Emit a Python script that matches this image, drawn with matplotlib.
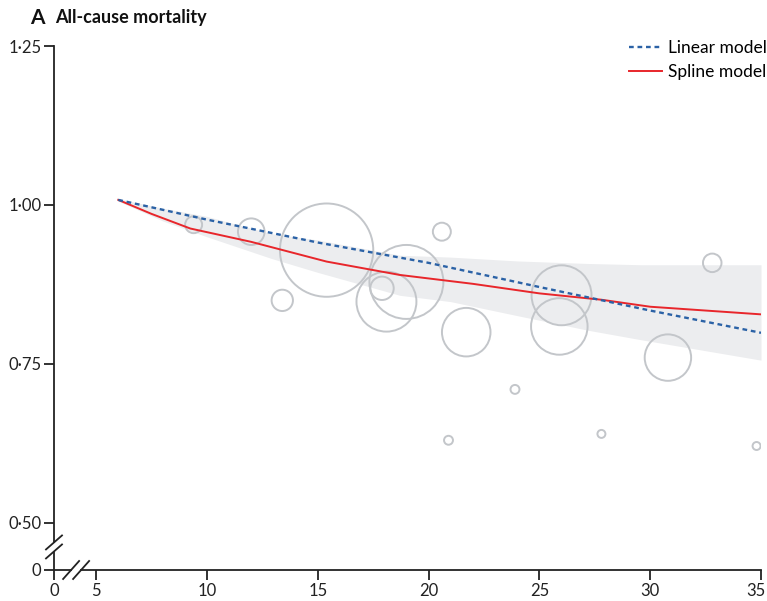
import matplotlib.pyplot as plt
import matplotlib.transforms as mtransforms
import numpy as np

plt.rcParams['font.family'] = ['Lato', 'DejaVu Sans']

# individual studies: exposure, relative risk, weight (bubble area)
study_x = [9.4, 12.0, 15.4, 13.4, 17.9, 18.1, 19.0, 20.6, 21.7, 26.0, 25.9, 32.8, 30.8, 23.9, 20.9, 27.8, 34.8]
study_rr = [0.969, 0.958, 0.929, 0.850, 0.869, 0.848, 0.879, 0.958, 0.800, 0.858, 0.809, 0.909, 0.760, 0.710, 0.630, 0.640, 0.621]
study_weight = [0.72, 1.77, 21.8, 1.14, 1.37, 9.0, 13.7, 0.81, 5.9, 9.0, 8.0, 0.86, 5.4, 0.2, 0.2, 0.16, 0.16]

# pooled dose-response curves
linear_x = [6, 10, 15, 20, 25, 30, 35]
linear_rr = [1.008, 0.977, 0.941, 0.909, 0.871, 0.834, 0.799]

spline_x = [6, 7.5, 9.25, 12, 15.4, 18.7, 22, 25, 27.8, 30, 35]
spline_rr = [1.008, 0.986, 0.963, 0.942, 0.911, 0.890, 0.876, 0.861, 0.851, 0.840, 0.828]

band_x = [6, 8, 10, 12.9, 15, 18.7, 21, 24, 27.2, 29.6, 35]
band_hi = [1.010, 0.995, 0.982, 0.955, 0.945, 0.921, 0.918, 0.912, 0.908, 0.906, 0.906]
band_lo = [1.006, 0.975, 0.950, 0.916, 0.894, 0.858, 0.848, 0.826, 0.803, 0.788, 0.756]

x_ticks = [0, 5, 10, 15, 20, 25, 30, 35]
y_ticks = [0, 0.50, 0.75, 1.00, 1.25]

# broken axes: zero is drawn just left/below the first real tick
X0 = 3.10
Y0 = 0.426

W, H = 767, 601
fig = plt.figure(figsize=(W / 100, H / 100), dpi=100)
ax = fig.add_axes([54 / W, 31 / H, 707 / W, 524 / H])
ax.set_xlim(X0, 35)
ax.set_ylim(Y0, 1.25)

ax.fill_between(band_x, band_lo, band_hi, color='#ECEDEF', lw=0, zorder=1)
ax.scatter(study_x, study_rr, s=np.array(study_weight) * 207, facecolors='none',
           edgecolors='#C3C6CA', linewidths=1.4, zorder=2)
ax.plot(linear_x, linear_rr, color='#2B62A6', lw=1.7, dashes=(2.0, 1.6),
        label='Linear model', zorder=4)
ax.plot(spline_x, spline_rr, color='#E8262B', lw=1.4, label='Spline model', zorder=3)

for side in ('top', 'right'):
    ax.spines[side].set_visible(False)
for side in ('left', 'bottom'):
    ax.spines[side].set_linewidth(1.3)
    ax.spines[side].set_color('#222222')

ax.set_xticks([X0 if v == 0 else v for v in x_ticks])
ax.set_xticklabels([str(v) for v in x_ticks])
ax.set_yticks([Y0 if v == 0 else v for v in y_ticks])
ax.set_yticklabels(['0' if v == 0 else f'{v:.2f}'.replace('.', '\u00b7') for v in y_ticks])
ax.tick_params(length=7, width=1.3, color='#222222', labelsize=12,
               labelcolor='#222222', pad=2)

# keep the last x label inside the canvas
last = ax.get_xticklabels()[-1]
last.set_transform(last.get_transform() +
                   mtransforms.ScaledTranslation(-5 / 100, 0, fig.dpi_scale_trans))

# break marks on both axes
px_x = 707 / (35 - X0)
px_y = 524 / (1.25 - Y0)


def slash(cx, cy, dx, dy):
    ax.plot([cx - dx / px_x, cx + dx / px_x], [cy - dy / px_y, cy + dy / px_y],
            color='#222222', lw=1.3, clip_on=False, zorder=6)


yb = 0.5 - 24 / px_y
ax.plot([X0, X0], [yb - 4 / px_y, yb + 4 / px_y], color='white', lw=3,
        clip_on=False, zorder=5, solid_capstyle='butt')
slash(X0, yb - 4.5 / px_y, 8, 7)
slash(X0, yb + 4.5 / px_y, 8, 7)

xb = 5 - 20 / px_x
ax.plot([xb - 4 / px_x, xb + 4 / px_x], [Y0, Y0], color='white', lw=3,
        clip_on=False, zorder=5, solid_capstyle='butt')
slash(xb - 5 / px_x, Y0, 8, 9)
slash(xb + 5 / px_x, Y0, 8, 9)

ax.legend(loc='upper right', bbox_to_anchor=(1.0, 1 - 40 / H),
          bbox_transform=fig.transFigure, frameon=False, fontsize=12.5,
          handlelength=1.9, handletextpad=0.35, labelspacing=0.45,
          borderaxespad=0, borderpad=0)

fig.text(30 / W, 1 - 18 / H, 'A', fontsize=15, fontweight='bold', va='center', color='#111111')
fig.text(55 / W, 1 - 18 / H, 'All-cause mortality', fontsize=13, fontweight='bold',
         va='center', color='#111111')

fig.savefig('out.png', dpi=100)
